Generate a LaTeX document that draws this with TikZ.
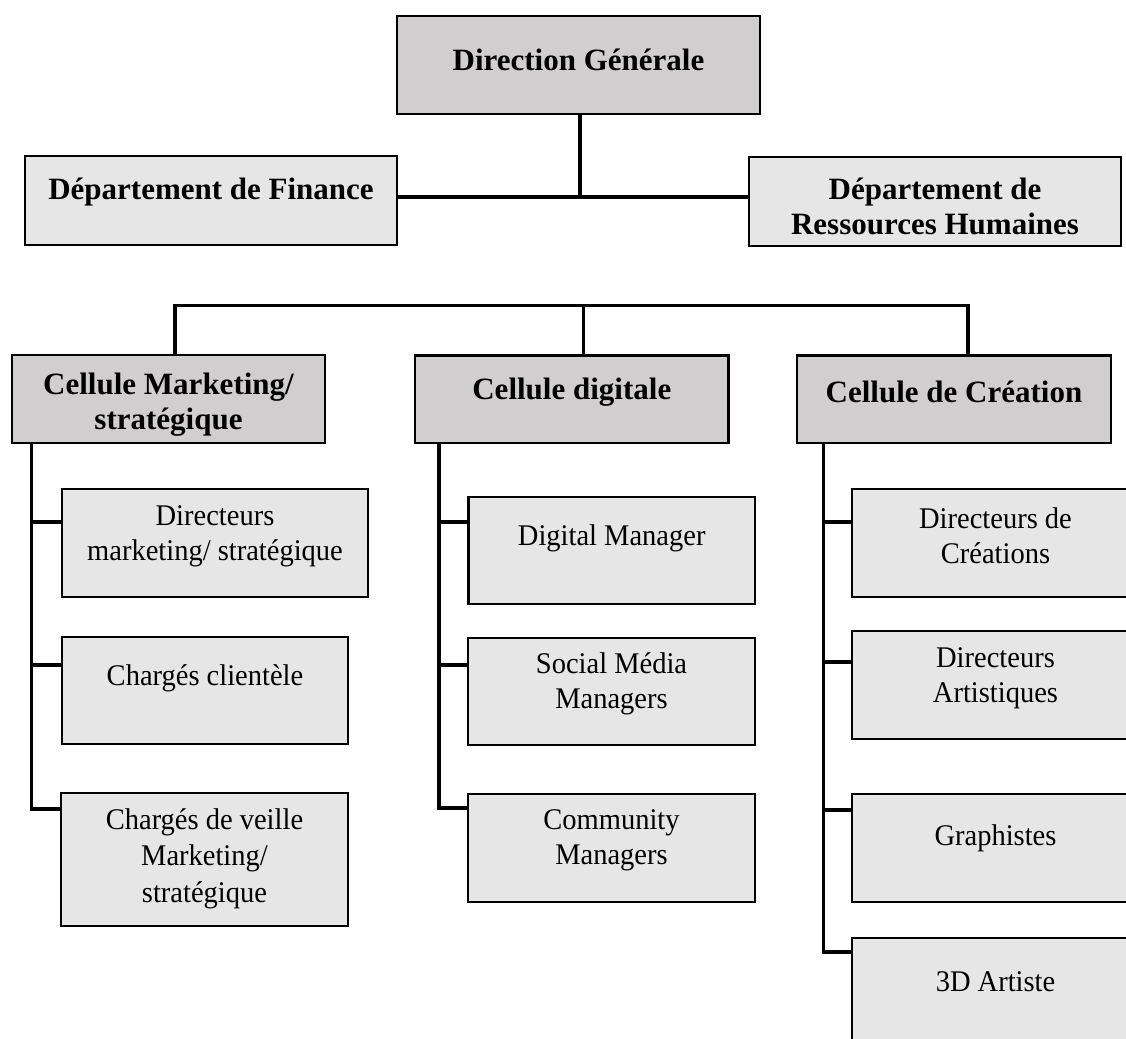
\documentclass[tikz,border=0pt]{standalone}
\usepackage{fontspec}
\setmainfont{Liberation Serif}
\newfontfamily\regf[FakeStretch=0.95]{Liberation Serif}
\newfontfamily\boldf{Liberation Serif}
\definecolor{boxdark}{HTML}{D0CECE}
\definecolor{boxlight}{HTML}{E7E6E6}
\begin{document}
\begin{tikzpicture}[x=1pt,y=-1pt,
  dark/.style={draw, line width=2.3pt, fill=boxdark, anchor=north west, inner sep=0pt, outer sep=0pt},
  light/.style={draw, line width=2.3pt, fill=boxlight, anchor=north west, inner sep=0pt, outer sep=0pt},
  txt/.style={font=\regf\fontsize{30}{35}\selectfont, align=center, inner sep=0pt},
  btxt/.style={font=\boldf\bfseries\fontsize{31}{35}\selectfont, align=center, inner sep=0pt},
  conn/.style={line width=3.5pt}]
\useasboundingbox[fill=white] (0,0) rectangle (1126,1038);
% top level
\node[dark, minimum width=363pt, minimum height=98pt] (dg) at (397,16) {};
\node[light, minimum width=372pt, minimum height=89pt] (fin) at (25,156) {};
\node[light, minimum width=372pt, minimum height=89pt] (rh) at (749,157) {};
% cellules
\node[dark, minimum width=313pt, minimum height=88pt] (mk) at (12,355) {};
\node[dark, minimum width=313.6pt, minimum height=87.5pt] (dig) at (415,355.5) {};
\node[dark, minimum width=314pt, minimum height=87.5pt] (cr) at (797,355.5) {};
% marketing sub
\node[light, minimum width=306pt, minimum height=108pt] (dm) at (62,489) {};
\node[light, minimum width=286pt, minimum height=107pt] (cc) at (62,637) {};
\node[light, minimum width=287pt, minimum height=133pt] (cv) at (61,793) {};
% digital sub
\node[light, minimum width=286.5pt, minimum height=107pt] (dman) at (468.5,497) {};
\node[light, minimum width=287pt, minimum height=107pt] (sm) at (468,638) {};
\node[light, minimum width=287pt, minimum height=108pt] (cm) at (468,794) {};
% creation sub
\node[light, minimum width=287pt, minimum height=108pt] (dc) at (852,489) {};
\node[light, minimum width=287pt, minimum height=108pt] (da) at (852,631) {};
\node[light, minimum width=287pt, minimum height=108pt] (gr) at (852,794) {};
\node[light, minimum width=287pt, minimum height=130pt] (td) at (852,938) {};
% texts
\node[btxt] (dgt) at (578.5,60) {Direction Générale};
\node[btxt] (fint) at (211,192) {Département de Finance};
\node[btxt] (rht) at (935,206.5) {Département de\\Ressources Humaines};
\node[btxt] (mkt) at (168.5,404.5) {Cellule Marketing/\\stratégique};
\node[btxt] (digt) at (571.8,392) {Cellule digitale};
\node[btxt] (crt) at (954,392) {Cellule de Création};
\node[txt] (dmt) at (215,536.5) {Directeurs\\marketing/ stratégique};
\node[txt] (cct) at (205,678) {Chargés clientèle};
\node[txt, font=\regf\fontsize{30}{36.5}\selectfont] (cvt) at (204.5,858.5) {Chargés de veille\\Marketing/\\stratégique};
\node[txt] (dmant) at (611.7,538) {Digital Manager};
\node[txt] (smt) at (611.5,684.2) {Social Média\\Managers};
\node[txt] (cmt) at (611.5,840.5) {Community\\Managers};
\node[txt] (dct) at (995.5,535.4) {Directeurs de\\Créations};
\node[txt] (dat) at (995.5,678.4) {Directeurs\\Artistiques};
\node[txt] (grt) at (995.5,838) {Graphistes};
\node[txt] (tdt) at (995.5,982) {3D Artiste};
% top connectors
\coordinate (j) at (580,197);
\draw[conn] (dg.south -| j) -- (j);
\draw[conn] (j -| fin.east) -- (j -| rh.west);
% bus
\coordinate (d1) at (175,305.5);
\coordinate (d2) at (583.5,305.5);
\coordinate (d3) at (968,305.5);
\draw[conn] (d1 |- mk.north) -- (d1) -- (d3) -- (d3 |- cr.north);
\draw[conn] (d2) -- (d2 |- dig.north);
% marketing spine
\coordinate (m1) at (31.5,522);
\coordinate (m2) at (31.5,665);
\coordinate (m3) at (31.5,809);
\draw[conn] (m3 |- mk.south) -- (m3) -- (m3 -| cv.west);
\draw[conn] (m1) -- (m1 -| dm.west);
\draw[conn] (m2) -- (m2 -| cc.west);
% digital spine
\coordinate (g1) at (439,522);
\coordinate (g2) at (439,665);
\coordinate (g3) at (439,808);
\draw[conn] (g3 |- dig.south) -- (g3) -- (g3 -| cm.west);
\draw[conn] (g1) -- (g1 -| dman.west);
\draw[conn] (g2) -- (g2 -| sm.west);
% creation spine
\coordinate (c1) at (823.5,522);
\coordinate (c2) at (823.5,662);
\coordinate (c3) at (823.5,810);
\coordinate (c4) at (823.5,952);
\draw[conn] (c4 |- cr.south) -- (c4) -- (c4 -| td.west);
\draw[conn] (c1) -- (c1 -| dc.west);
\draw[conn] (c2) -- (c2 -| da.west);
\draw[conn] (c3) -- (c3 -| gr.west);
\end{tikzpicture}
\end{document}
